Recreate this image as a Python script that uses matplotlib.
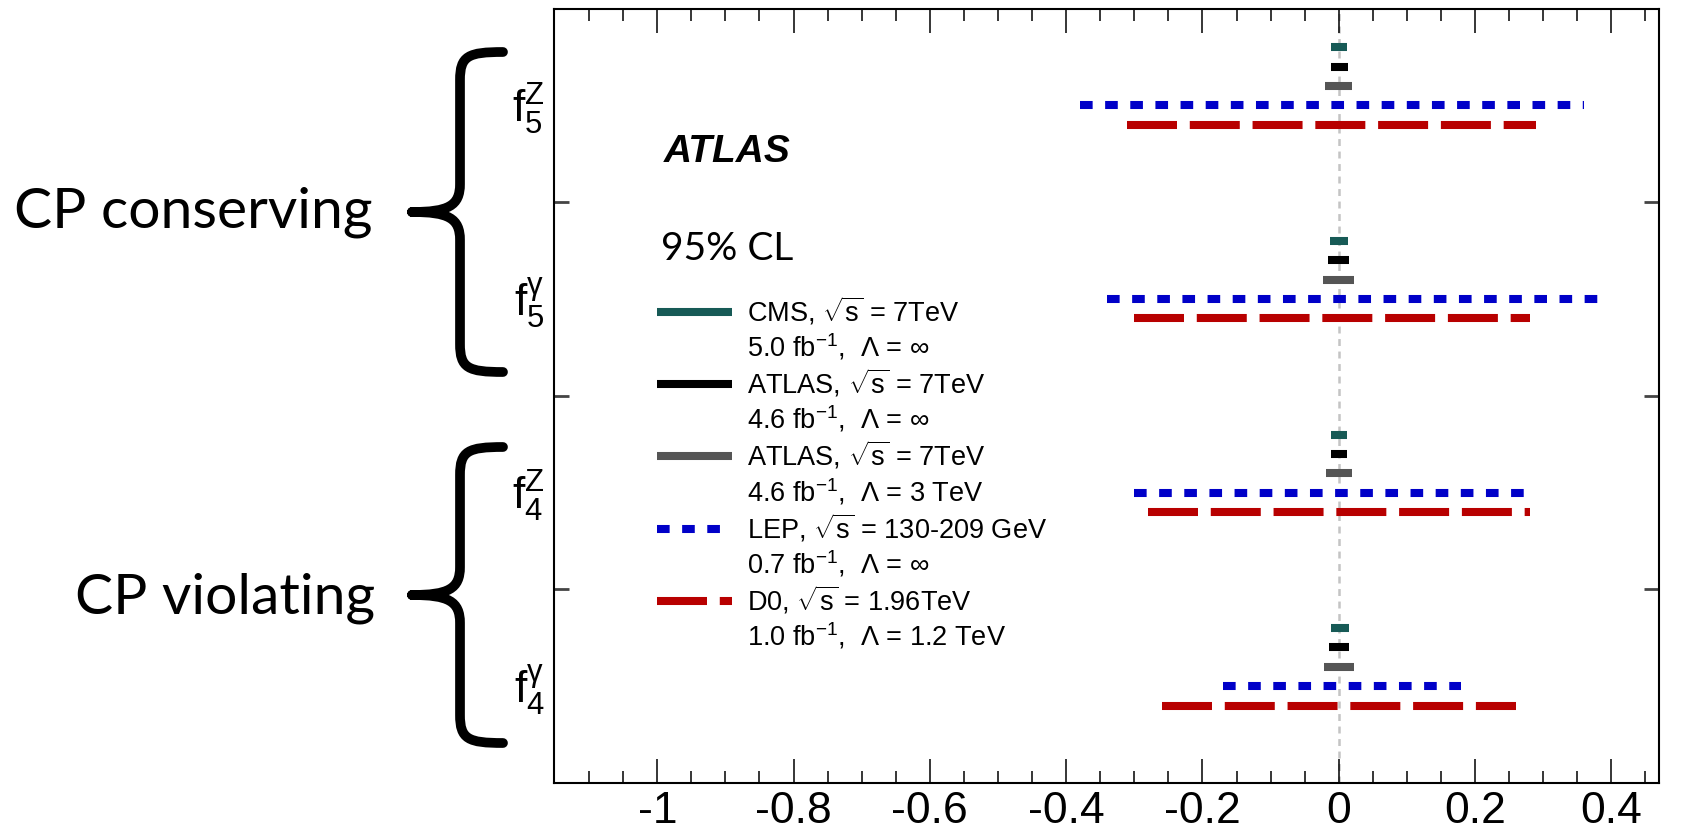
import numpy as np
import matplotlib
matplotlib.use("Agg")
from matplotlib import pyplot as plt
from matplotlib.lines import Line2D
from matplotlib.path import Path
from matplotlib.patches import PathPatch

plt.rcParams['font.family'] = ['Liberation Sans', 'DejaVu Sans']
plt.rcParams['mathtext.fontset'] = 'custom'
plt.rcParams['mathtext.rm'] = 'Liberation Sans'
plt.rcParams['mathtext.it'] = 'Liberation Sans:italic'
plt.rcParams['mathtext.bf'] = 'Liberation Sans:bold'
plt.rcParams['lines.scale_dashes'] = False

# couplings, top to bottom
couplings = [r'$\mathrm{f}_{5}^{\mathrm{Z}}$', r'$\mathrm{f}_{5}^{\mathrm{γ}}$',
             r'$\mathrm{f}_{4}^{\mathrm{Z}}$', r'$\mathrm{f}_{4}^{\mathrm{γ}}$']

# 95% CL intervals, order: f5Z, f5gamma, f4Z, f4gamma
cms_lo = [-0.011, -0.013, -0.012, -0.012]
cms_hi = [0.012, 0.013, 0.012, 0.015]
atlas_lo = [-0.012, -0.016, -0.012, -0.015]
atlas_hi = [0.013, 0.015, 0.012, 0.015]
atlas3_lo = [-0.020, -0.023, -0.019, -0.021]
atlas3_hi = [0.019, 0.023, 0.019, 0.022]
lep_lo = [-0.38, -0.34, -0.30, -0.17]
lep_hi = [0.36, 0.38, 0.29, 0.18]
d0_lo = [-0.31, -0.30, -0.28, -0.26]
d0_hi = [0.29, 0.28, 0.28, 0.26]

legend_first = [r'CMS, $\sqrt{\mathrm{s}}$ = 7TeV', r'ATLAS, $\sqrt{\mathrm{s}}$ = 7TeV',
                r'ATLAS, $\sqrt{\mathrm{s}}$ = 7TeV', r'LEP, $\sqrt{\mathrm{s}}$ = 130-209 GeV',
                r'D0, $\sqrt{\mathrm{s}}$ = 1.96TeV']
legend_second = [r'5.0 fb$^{-1}$,  Λ = ∞', r'4.6 fb$^{-1}$,  Λ = ∞',
                 r'4.6 fb$^{-1}$,  Λ = 3 TeV', r'0.7 fb$^{-1}$,  Λ = ∞',
                 r'1.0 fb$^{-1}$,  Λ = 1.2 TeV']

series = [
    (cms_lo, cms_hi, dict(color='#175a56', solid_capstyle='butt')),
    (atlas_lo, atlas_hi, dict(color='#000000', solid_capstyle='butt')),
    (atlas3_lo, atlas3_hi, dict(color='#555555', solid_capstyle='butt')),
    (lep_lo, lep_hi, dict(color='#0000c8', dashes=(9.1, 9.0))),
    (d0_lo, d0_hi, dict(color='#b80000', dashes=(36, 9.2))),
]
row_offsets = [0.3, 0.2, 0.1, 0.0, -0.1]

W, H = 1689, 834
fig = plt.figure(figsize=(W / 100, H / 100), dpi=100)
ax = fig.add_axes([553.7 / W, 1 - 783 / H, (1659 - 553.7) / W, (783 - 8.6) / H])

ax.axvline(0, color='#c4c4c4', lw=1.8, dashes=(5, 4), zorder=1)

handles = []
for (lo, hi, style), off in zip(series, row_offsets):
    for k in range(len(couplings)):
        yc = 3.5 - k + off
        ax.plot([lo[k], hi[k]], [yc, yc], lw=5.8, zorder=3, **style)
    handles.append(Line2D([], [], lw=5.8, **style))

ax.set_xlim(-1.152, 0.47)
ax.set_ylim(0, 4)
ax.set_xticks(np.arange(-1.0, 0.41, 0.2))
ax.set_xticklabels(['-1', '-0.8', '-0.6', '-0.4', '-0.2', '0', '0.2', '0.4'])
ax.set_xticks(np.arange(-1.1, 0.46, 0.05), minor=True)
ax.tick_params(axis='x', which='both', direction='in', top=True, bottom=True,
               width=1.1, labelsize=32, pad=6)
ax.tick_params(axis='x', which='major', length=17)
ax.tick_params(axis='x', which='minor', length=8.5)
ax.set_yticks([1, 2, 3])
ax.set_yticklabels([])
ax.tick_params(axis='y', which='major', direction='in', left=True, right=True,
               length=11, width=2, color='#444444')
for s in ax.spines.values():
    s.set_linewidth(1.5)

for k, lab in enumerate(couplings):
    ax.text(-0.008, 3.5 - k - 0.02, lab, transform=ax.get_yaxis_transform(),
            ha='right', va='center', fontsize=32)

ax.text(0.100, 0.802, 'ATLAS', transform=ax.transAxes, fontsize=28,
        fontweight='bold', fontstyle='italic', ha='left', va='baseline')
ax.text(0.097, 0.675, '95% CL', transform=ax.transAxes, fontsize=28,
        family='Lato', ha='left', va='baseline')

leg_handles = []
leg_labels = []
for h, a, b in zip(handles, legend_first, legend_second):
    leg_handles += [h, Line2D([], [], color='none')]
    leg_labels += [a, b]
ax.legend(leg_handles, leg_labels, loc='upper left', bbox_to_anchor=(0.0935, 0.63),
          frameon=False, fontsize=19.5, handlelength=2.78, handletextpad=0.55,
          labelspacing=0.16, borderpad=0, borderaxespad=0)

# group labels with braces
fig.text(372 / W, 1 - 212 / H, 'CP conserving', family='Lato', fontsize=41,
         ha='right', va='center')
fig.text(375 / W, 1 - 598 / H, 'CP violating', family='Lato', fontsize=41,
         ha='right', va='center')


def brace(top, bottom, tip, x_end=503, x_stem=460, x_tip=412):
    pts = [(x_end, top), (x_stem + 8, top), (x_stem, top + 4), (x_stem, top + 28),
           (x_stem, tip - 28),
           (x_stem, tip - 6), (x_stem - 12, tip), (x_tip, tip),
           (x_tip, tip), (x_stem - 12, tip), (x_stem, tip + 6), (x_stem, tip + 28),
           (x_stem, bottom - 28),
           (x_stem, bottom - 4), (x_stem + 8, bottom), (x_end, bottom)]
    codes = [Path.MOVETO, Path.CURVE4, Path.CURVE4, Path.CURVE4, Path.LINETO,
             Path.CURVE4, Path.CURVE4, Path.CURVE4,
             Path.MOVETO, Path.CURVE4, Path.CURVE4, Path.CURVE4, Path.LINETO,
             Path.CURVE4, Path.CURVE4, Path.CURVE4]
    verts = [(x / W, 1 - y / H) for x, y in pts]
    fig.add_artist(PathPatch(Path(verts, codes), transform=fig.transFigure, fill=False,
                             lw=7, capstyle='round', joinstyle='round', color='black'))


brace(52, 372, 212)
brace(447, 743, 595)

fig.savefig('out.png', dpi=100)
